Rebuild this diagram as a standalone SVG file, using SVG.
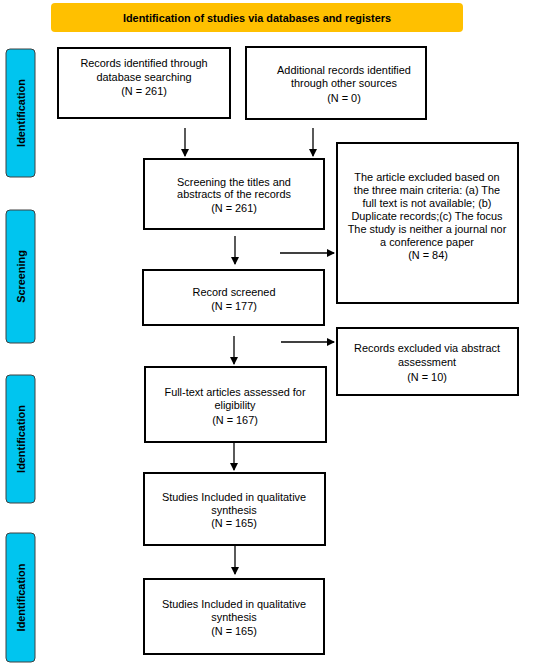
<svg xmlns="http://www.w3.org/2000/svg" width="550" height="668" viewBox="0 0 550 668">
<defs>
<marker id="ah" markerWidth="8" markerHeight="8" refX="7" refY="4" orient="auto" markerUnits="userSpaceOnUse">
<path d="M0,0 L8,4 L0,8 Z" fill="#000"/>
</marker>
<style>
.box{fill:#fff;stroke:#000;stroke-width:2}
.side{fill:#00C5EF;stroke:#404040;stroke-width:1}
.t{font-family:"Liberation Sans",Arial,sans-serif;font-size:10.9px;fill:#000;text-anchor:middle}
.b{font-family:"Liberation Sans",Arial,sans-serif;font-size:10.9px;font-weight:bold;fill:#000;text-anchor:middle}
.c{stroke:#000;stroke-width:1.3;fill:none;marker-end:url(#ah)}
</style>
</defs>
<rect width="550" height="668" fill="#fff"/>
<g id="header">
<rect x="51" y="3" width="412" height="29" rx="4" fill="#FFC000"/>
<text class="b" x="257" y="21.5">Identification of studies via databases and registers</text>
</g>
<g id="side1"><rect class="side" x="6" y="49" width="29" height="128" rx="4"/><text class="b" transform="translate(24.5,113) rotate(-90)">Identification</text></g>
<g id="side2"><rect class="side" x="6" y="210" width="29" height="133" rx="4"/><text class="b" transform="translate(24.5,276.5) rotate(-90)">Screening</text></g>
<g id="side3"><rect class="side" x="6" y="375" width="29" height="128" rx="4"/><text class="b" transform="translate(24.5,439) rotate(-90)">Identification</text></g>
<g id="side4"><rect class="side" x="6" y="533" width="29" height="129" rx="4"/><text class="b" transform="translate(24.5,597.5) rotate(-90)">Identification</text></g>
<g id="n1"><rect class="box" x="58" y="48" width="172" height="70"/>
<text class="t" x="144" y="67">Records identified through</text><text class="t" x="144" y="81">database searching</text><text class="t" x="144" y="95">(N = 261)</text></g>
<g id="n2"><rect class="box" x="246" y="47" width="180" height="72"/>
<text class="t" x="344" y="74">Additional records identified</text><text class="t" x="344" y="87">through other sources</text><text class="t" x="344" y="102">(N = 0)</text></g>
<g id="n3"><rect class="box" x="144" y="159" width="180" height="70"/>
<text class="t" x="234" y="186">Screening the titles and</text><text class="t" x="234" y="198">abstracts of the records</text><text class="t" x="234" y="212">(N = 261)</text></g>
<g id="n4"><rect class="box" x="337" y="143" width="181" height="160"/>
<text class="t" x="427" y="181">The article excluded based on</text><text class="t" x="427" y="194">the three main criteria: (a) The</text><text class="t" x="427" y="207">full text is not available; (b)</text><text class="t" x="427" y="220">Duplicate records;(c) The focus</text><text class="t" x="427" y="233">The study is neither a journal nor</text><text class="t" x="427" y="246">a conference paper</text><text class="t" x="428" y="259">(N = 84)</text></g>
<g id="n5"><rect class="box" x="143" y="270" width="181" height="55"/>
<text class="t" x="234" y="296">Record screened</text><text class="t" x="234" y="310">(N = 177)</text></g>
<g id="n6"><rect class="box" x="337" y="328" width="181" height="67"/>
<text class="t" x="427" y="352">Records excluded via abstract</text><text class="t" x="427" y="366">assessment</text><text class="t" x="427" y="381">(N = 10)</text></g>
<g id="n7"><rect class="box" x="145" y="367" width="181" height="75"/>
<text class="t" x="235" y="396">Full-text articles assessed for</text><text class="t" x="235" y="409">eligibility</text><text class="t" x="235" y="424">(N = 167)</text></g>
<g id="n8"><rect class="box" x="144" y="473" width="181" height="72"/>
<text class="t" x="234" y="501">Studies Included in qualitative</text><text class="t" x="234" y="514">synthesis</text><text class="t" x="234" y="527">(N = 165)</text></g>
<g id="n9"><rect class="box" x="144" y="579" width="180" height="75"/>
<text class="t" x="234" y="608">Studies Included in qualitative</text><text class="t" x="234" y="621">synthesis</text><text class="t" x="234" y="635">(N = 165)</text></g>
<g id="connectors">
<line class="c" x1="185" y1="128" x2="185" y2="156"/>
<line class="c" x1="313" y1="128" x2="313" y2="156"/>
<line class="c" x1="235" y1="236" x2="235" y2="264"/>
<line class="c" x1="280" y1="253" x2="334" y2="253"/>
<line class="c" x1="234" y1="336" x2="234" y2="364"/>
<line class="c" x1="281" y1="342" x2="334" y2="342"/>
<line class="c" x1="234" y1="442" x2="234" y2="470"/>
<line class="c" x1="235" y1="545" x2="235" y2="574"/>
</g>
</svg>
